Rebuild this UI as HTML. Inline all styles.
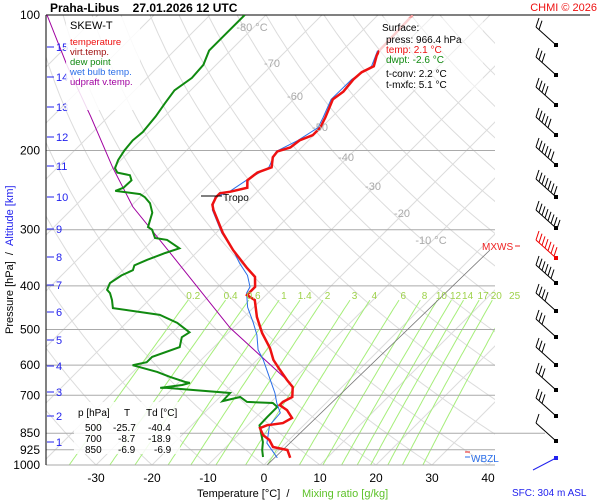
<!DOCTYPE html>
<html><head><meta charset="utf-8"><style>
html,body{margin:0;padding:0;background:#fff;}
svg{display:block;font-family:"Liberation Sans",sans-serif;}
</style></head><body>
<svg id="chart" width="600" height="500" viewBox="0 0 600 500" xmlns="http://www.w3.org/2000/svg">
<defs><clipPath id="plotclip"><rect x="46" y="15" width="449" height="450"/></clipPath></defs>
<g id="grid" clip-path="url(#plotclip)"></g>
<g id="iso"></g>
<g id="series" clip-path="url(#plotclip)"></g>
<g id="labels"></g>
</svg>
<script>
const isobars=[100,200,300,400,500,600,700,850,925,1000];
const tempP=[964,926,912,880,858,828,816,807,786,755,736,724,706,671,647,615,584,550,509,469,430,419,402,382,365,333,305,271,264,254,249,247,242,233,224,218,207,201,197,190,185,178,169,154,148,139,134,130,123,120,100];
const tempT=[3.4,1.5,-1.6,-3.5,-5.5,-7.3,-6.6,-4.1,-3.4,-5.7,-7.9,-7.9,-7.1,-8.8,-11.1,-14.1,-17.1,-19.8,-23.9,-27.7,-31.1,-33.4,-33.4,-35.2,-38.2,-43.9,-48.8,-54.6,-55.7,-56.4,-56.4,-54.8,-52.5,-53.8,-53.4,-51.8,-53.4,-53.6,-52,-51.6,-50.2,-50.2,-51.1,-53,-52.5,-52.9,-52.7,-51.6,-53,-53.4,-53.8];
const dewP=[960,926,889,816,782,743,728,724,706,721,692,674,674,664,657,654,637,621,600,591,575,547,520,507,483,464,448,430,415,408,394,379,369,360,350,338,330,316,313,300,296,275,262,254,250,246,242,233,227,224,219,210,200,190,182,168,157,147,138,129,120,110,100];
const dewT=[-1.6,-3.0,-4.3,-7.9,-8.0,-8.0,-9.5,-14.3,-16.4,-18.8,-18.9,-31.1,-32.3,-28.9,-27.9,-28.9,-32.5,-35.7,-41.3,-39.3,-39.3,-36.1,-37.5,-37,-40.9,-45.4,-55,-56.6,-58.2,-59.3,-60,-59.3,-58.2,-58.8,-57.5,-55.5,-53.8,-57.5,-60,-62,-63.2,-65,-67.1,-69.1,-70.5,-75.5,-74.6,-74.5,-75.7,-78.4,-79.6,-80.5,-81.1,-81.4,-81.1,-81.6,-82.3,-82.9,-82,-82.3,-83.8,-83.8,-83.8];
const wbP=[964,894,816,766,728,692,625,584,555,514,483,446,415,402,379,356,333,305,271,254,247,233,218,201,190,178,169,154,139,130,120];
const wbT=[1.1,-3.4,-6.1,-6.4,-8.8,-10.9,-15.7,-18.9,-21.6,-24.5,-27.3,-31.1,-33.8,-34.3,-36.8,-40.4,-43.9,-49,-54.8,-56.6,-55,-54,-52.3,-53.8,-51.9,-50.6,-51.5,-53.3,-53.2,-52,-53.7];
const parcelP=[647,496,330,267,218,168,130,100];
const parcelT=[-11.1,-30.5,-56.1,-69.5,-80.2,-93.2,-106.3,-119.1];
const mixRatios=[0.2,0.4,0.6,1,1.4,2,3,4,6,8,10,12,14,17,20,25];
const mixLabels=["0.2","0.4","0.6","1","1.4","2","3","4","6","8","10","12","14","17","20","25"];
const xTicks=[-30,-20,-10,0,10,20,30,40];
const isoLabelT=[-80,-70,-60,-50,-40,-30,-20,-10];
const altKm=[1,2,3,4,5,6,7,8,9,10,11,12,13,14,15];
const altY=[442,416,392,366,340,312,285,257,229,197,166,137,107,77,47];
const barbY=[45,75,105,135,165,197,228,258,283,311,337,365,390,416,441];
const barbN=[2,3,4,5,6,7,8,7,6,4,3,3,3,3,1];

const NS="http://www.w3.org/2000/svg";
function yP(p){return 15+450*Math.log10(p/100);}
function xT(t,p){return 264+5.6*t+(465-yP(p));}
function mk(parent,tag,attrs,text){const e=document.createElementNS(NS,tag);for(const k in attrs)e.setAttribute(k,attrs[k]);if(text!==undefined)e.textContent=text;document.getElementById(parent).appendChild(e);return e;}
function pathFrom(P,T){return P.map((p,i)=>(i?'L':'M')+xT(T[i],p).toFixed(1)+','+yP(p).toFixed(1)).join(' ');}

for(let t=-130;t<=50;t+=10){
  const e=mk('grid','line',{x1:xT(t,1050),y1:yP(1050),x2:xT(t,90),y2:yP(90),stroke:'#dcdcdc','stroke-width':1});
  
  
}
for(let th=-40;th<=240;th+=10){
  const P=[],T=[];
  for(let p=1050;p>=90;p-=10){P.push(p);T.push((th+273.15)*Math.pow(p/1000,0.286)-273.15);}
  const e=mk('grid','path',{d:pathFrom(P,T),fill:'none',stroke:'#dcdcdc','stroke-width':1});
  
  
}
function tdFor(w,p){const e=w*p/(622+w);const l=Math.log(e/6.112);return 243.5*l/(17.67-l);}
mixRatios.forEach((w,i)=>{
  const P=[],T=[];
  for(let p=1000;p>=430;p-=10){P.push(p);T.push(tdFor(w,p));}
  const e=mk('grid','path',{d:pathFrom(P,T),fill:'none',stroke:'#a6ee7a','stroke-width':1});
  
  
  const l=mk('labels','text',{x:xT(tdFor(w,415),415),y:299,'font-size':10,fill:'#9ed24a','text-anchor':'middle'},mixLabels[i]);
  
  
});
isobars.forEach(p=>{
  const y=yP(p);
  const e=mk('iso','line',{x1:46,y1:y,x2:p===850?545:495,y2:y,stroke:p===100?'#000':'#aaa','stroke-width':1});
  
  
  const t=mk('labels','text',{x:40,y:y+4,'font-size':12,'text-anchor':'end',fill:'#000'},String(p));
  
  
});
isoLabelT.forEach(t=>{
  const y=[27,63,96,127,157,186,213,240][isoLabelT.indexOf(t)];
  const p=100*Math.pow(10,(y-15)/450);
  const e=mk('labels','text',{x:xT(t,p)-2,y:y+4,'font-size':11,fill:'#aaa','text-anchor':'middle'},(t===-80||t===-10)?t+' °C':String(t));
  
  
});
xTicks.forEach(t=>{
  const e=mk('labels','text',{x:xT(t,1000),y:482,'font-size':12,'text-anchor':'middle',fill:'#000'},String(t));
  
  
});
altKm.forEach((k,i)=>{
  const e=mk('labels','line',{x1:47,y1:altY[i],x2:54,y2:altY[i],stroke:'#2222ee','stroke-width':1});
  
  
  const t=mk('labels','text',{x:56,y:altY[i]+4,'font-size':11,fill:'#2222ee'},String(k));
  
  
});
let g=mk('series','line',{x1:264,y1:468,x2:490,y2:250,stroke:'#777','stroke-width':0.8});


let s;
s=mk('series','path',{d:pathFrom(parcelP,parcelT),fill:'none',stroke:'#a000a0','stroke-width':1});


s=mk('series','path',{d:pathFrom(dewP,dewT),fill:'none',stroke:'#108a10','stroke-width':2});


s=mk('series','path',{d:pathFrom(wbP,wbT),fill:'none',stroke:'#2a6ee8','stroke-width':1});


s=mk('series','path',{d:pathFrom(tempP.slice(0,-1),tempT.slice(0,-1)),fill:'none',stroke:'#ee1111','stroke-width':2.5});


s=mk('series','path',{d:pathFrom(tempP.slice(-2),tempT.slice(-2)),fill:'none',stroke:'#f4a0a0','stroke-width':2.5});


barbY.forEach((y,i)=>{
  const x0=556,x1=536,y1=y-18;
  const grp=mk('labels','g',{});
  
  
  const col=(i===7)?'#e00':'#000';
  const a=document.createElementNS(NS,'line');
  a.setAttribute('x1',x0);a.setAttribute('y1',y);a.setAttribute('x2',x1);a.setAttribute('y2',y1);a.setAttribute('stroke',col);
  grp.appendChild(a);
  for(let k=0;k<barbN[i];k++){
    const bx=x1+k*3,by=y1+k*2.7;
    const b=document.createElementNS(NS,'line');
    b.setAttribute('x1',bx);b.setAttribute('y1',by);b.setAttribute('x2',bx+3);b.setAttribute('y2',by-9);b.setAttribute('stroke',col);
    grp.appendChild(b);
  }
  const d=document.createElementNS(NS,'rect');
  d.setAttribute('x',x0-2);d.setAttribute('y',y-2);d.setAttribute('width',4);d.setAttribute('height',4);d.setAttribute('fill',col);
  grp.appendChild(d);
});
</script>
<svg style="position:absolute;left:0;top:0" width="600" height="500" font-family="Liberation Sans, sans-serif">
<line x1="46" y1="15" x2="46" y2="465" stroke="#000"/>
<line x1="495" y1="15" x2="590" y2="15" stroke="#000"/>
<text x="50" y="12" font-size="12" font-weight="bold">Praha-Libus&#160;&#160;&#160;&#160;27.01.2026 12 UTC</text>
<text x="597" y="11" font-size="11" fill="#ee1111" text-anchor="end">CHMI © 2026</text>
<rect x="66" y="17" width="74" height="93" fill="#fff" fill-opacity="0.85"/>
<text x="70" y="29" font-size="11">SKEW-T</text>
<text x="70" y="45" font-size="9.5" fill="#ee1111">temperature</text>
<text x="70" y="55" font-size="9.5" fill="#a01010">virt.temp.</text>
<text x="70" y="65" font-size="9.5" fill="#108a10">dew point</text>
<text x="70" y="75" font-size="9.5" fill="#2a6ee8">wet bulb temp.</text>
<text x="70" y="85" font-size="9.5" fill="#a000a0">udpraft v.temp.</text>
<rect x="379" y="18" width="104" height="72" fill="#fff" fill-opacity="0.5"/>
<g font-size="10">
<text x="382" y="31">Surface:</text>
<text x="386" y="43">press: 966.4 hPa</text>
<text x="386" y="53" fill="#ee1111">temp: 2.1 °C</text>
<text x="386" y="63" fill="#108a10">dwpt: -2.6 °C</text>
<text x="386" y="77">t-conv: 2.2 °C</text>
<text x="386" y="88">t-mxfc: 5.1 °C</text>
</g>
<line x1="201" y1="196" x2="222" y2="196" stroke="#000"/>
<text x="223" y="201" font-size="10">Tropo</text>
<text x="482" y="250" font-size="10" fill="#ee2222">MXWS</text>
<line x1="515" y1="246" x2="520" y2="246" stroke="#ee2222"/>
<line x1="465" y1="452" x2="470" y2="452" stroke="#ee2222"/>
<line x1="465" y1="457" x2="470" y2="457" stroke="#2a6ee8"/>
<text x="471" y="462" font-size="10" fill="#2a6ee8">WBZL</text>
<line x1="533" y1="470" x2="556" y2="458" stroke="#2222ee"/>
<rect x="554" y="456" width="4" height="4" fill="#2222ee"/>
<rect x="74" y="402" width="106" height="52" fill="#fff" fill-opacity="0.85"/>
<g font-size="10">
<text x="78" y="416">p [hPa]</text><text x="124" y="416">T</text><text x="146" y="416">Td [°C]</text>
<text x="85" y="431">500</text><text x="113" y="431">-25.7</text><text x="148" y="431">-40.4</text>
<text x="85" y="442">700</text><text x="118" y="442">-8.7</text><text x="148" y="442">-18.9</text>
<text x="85" y="453">850</text><text x="118" y="453">-6.9</text><text x="154" y="453">-6.9</text>
</g>
<text x="197" y="497" font-size="11">Temperature [°C]&#160;&#160;/</text>
<text x="302" y="497" font-size="11" fill="#5ec22a">Mixing ratio [g/kg]</text>
<text x="512" y="496" font-size="10" fill="#2222ee">SFC: 304 m ASL</text>
<text transform="translate(13,334) rotate(-90)" font-size="11">Pressure [hPa]&#160;&#160;/&#160;&#160;<tspan fill="#2222ee">Altitude [km]</tspan></text>
</svg>
</body></html>
